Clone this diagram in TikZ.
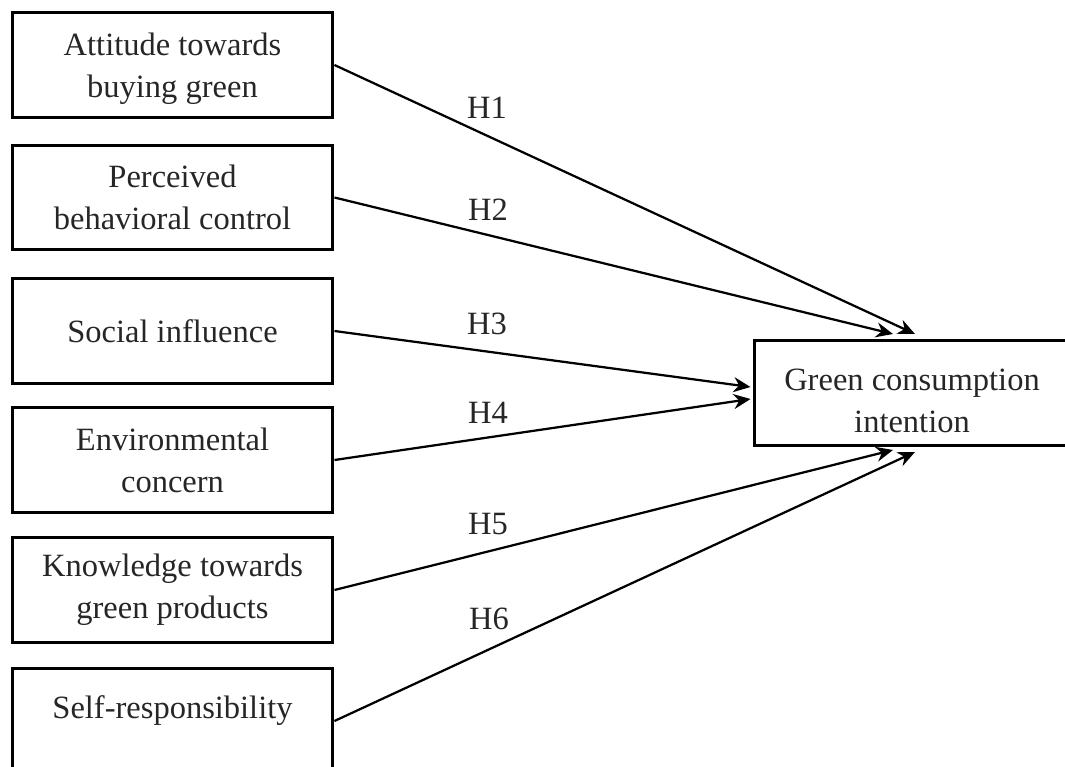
\documentclass[tikz,border=0pt]{standalone}
\usepackage{fontspec}
\setmainfont{Liberation Serif}
\usetikzlibrary{arrows.meta,calc}

\begin{document}
\begin{tikzpicture}[x=0.02cm,y=-0.02cm]
\tikzstyle{factor}=[rectangle,draw=black,line width=0.06cm,minimum width=6.42cm,minimum height=2.1cm,align=center,font=\fontsize{18.5}{24}\selectfont,text=black!85]
\tikzstyle{hyp}=[draw=black,line width=0.045cm,-{Stealth[length=0.34cm,width=0.3cm]}]
\tikzstyle{hlabel}=[font=\fontsize{18.5}{24}\selectfont,text=black!85]
\clip (0,0) rectangle (1065,767);
\node[factor] (att) at (172.5,65) {\rule{0pt}{0.6cm}Attitude towards\\buying green};
\node[factor] (pbc) at (172.5,197.5) {Perceived\\behavioral control};
\node[factor] (soc) at (172.5,331) {Social influence};
\node[factor] (env) at (172.5,460) {Environmental\\concern};
\node[factor] (know) at (172.5,590) {Knowledge towards\\green products};
\node[factor,text height=0.45cm,text depth=0.57cm] (self) at (172.5,721) {Self-responsibility};
\node[factor,minimum width=6.32cm] (gci) at (912,393) {\rule{0pt}{0.76cm}Green consumption\\intention};

\draw[hyp] (att.east) -- ($(gci.north)+(3,-5)$);
\draw[hyp] (pbc.east) -- ($(gci.north)+(-19,-5)$);
\draw[hyp] (soc.east) -- ($(gci.west)+(-2,-6)$);
\draw[hyp] (env.east) -- ($(gci.west)+(-2,6)$);
\draw[hyp] (know.east) -- ($(gci.south)+(-19,3)$);
\draw[hyp] (self.east) -- ($(gci.south)+(3,5)$);

\node[hlabel] (h1) at (487,108) {H1};
\node[hlabel] (h2) at (488,210) {H2};
\node[hlabel] (h3) at (487,324) {H3};
\node[hlabel] (h4) at (488,413) {H4};
\node[hlabel] (h5) at (488,524) {H5};
\node[hlabel] (h6) at (489,619) {H6};
\end{tikzpicture}
\end{document}
